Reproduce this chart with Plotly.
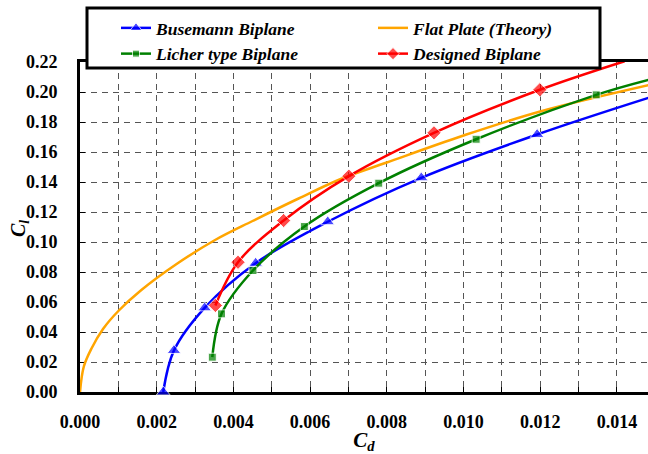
import plotly.graph_objects as go

# ---- data ----
busemann_cd = [0.00217, 0.00245, 0.00325, 0.00458, 0.00646, 0.00890, 0.01192, 0.01482]
busemann_cl = [0.0000, 0.0277, 0.0561, 0.0859, 0.1135, 0.1428, 0.1717, 0.1961]
busemann_mk = [1, 1, 1, 1, 1, 1, 1, 0]

flat_cd = [0.0, 0.0001, 0.0003, 0.0006, 0.0010, 0.0016, 0.0025, 0.0035, 0.0045,
           0.0057, 0.0068, 0.0080, 0.0100, 0.0120, 0.01482]
flat_cl = [0.0, 0.017, 0.029, 0.042, 0.054, 0.068, 0.085, 0.101, 0.114,
           0.129, 0.142, 0.153, 0.171, 0.187, 0.2045]

licher_cd = [0.00345, 0.00369, 0.00451, 0.00585, 0.00779, 0.01033, 0.01346, 0.01482]
licher_cl = [0.0232, 0.0521, 0.0810, 0.1103, 0.1392, 0.1685, 0.1981, 0.2081]
licher_mk = [1, 1, 1, 1, 1, 1, 1, 0]

designed_cd = [0.00353, 0.00412, 0.00531, 0.00701, 0.00923, 0.01199, 0.01420]
designed_cl = [0.0577, 0.0865, 0.1143, 0.1439, 0.1728, 0.2015, 0.2205]
designed_mk = [1, 1, 1, 1, 1, 1, 0]

x_tickvals = [0.000, 0.002, 0.004, 0.006, 0.008, 0.010, 0.012, 0.014]
x_ticktext = ["0.000", "0.002", "0.004", "0.006", "0.008", "0.010", "0.012", "0.014"]
y_tickvals = [0.00, 0.02, 0.04, 0.06, 0.08, 0.10, 0.12, 0.14, 0.16, 0.18, 0.20, 0.22]

SERIF = "Liberation Serif, Times New Roman, serif"

# layout geometry (pixels)
W, H = 648, 454
ML, MR, MT, MB = 80, 0, 62, 62
PW, PH = W - ML - MR, H - MT - MB


def px_x(p):
    return (p - ML) / PW


def px_y(p):
    return (H - MB - p) / PH


def sizes(mask, s):
    return [s if m else 0 for m in mask]


fig = go.Figure()
fig.add_trace(go.Scatter(
    x=busemann_cd, y=busemann_cl, name="Busemann Biplane", legend="legend",
    mode="lines+markers", line=dict(color="#0000FF", width=2.5, shape="spline"),
    marker=dict(symbol="triangle-up", size=sizes(busemann_mk, 12), color="#0000FF"),
    cliponaxis=False))
fig.add_trace(go.Scatter(
    x=flat_cd, y=flat_cl, name="Flat Plate (Theory)", legend="legend2",
    mode="lines", line=dict(color="#FFA500", width=2.5, shape="spline"),
    cliponaxis=False))
fig.add_trace(go.Scatter(
    x=licher_cd, y=licher_cl, name="Licher type Biplane", legend="legend",
    mode="lines+markers", line=dict(color="#008000", width=2.5, shape="spline"),
    marker=dict(symbol="square", size=sizes(licher_mk, 8), color="#008000"),
    cliponaxis=False))
fig.add_trace(go.Scatter(
    x=designed_cd, y=designed_cl, name="Designed Biplane", legend="legend2",
    mode="lines+markers", line=dict(color="#FF0000", width=2.5, shape="spline"),
    marker=dict(symbol="diamond", size=sizes(designed_mk, 11), color="#FF0000"),
    cliponaxis=False))

tickfont = dict(family=SERIF, size=18, color="black", weight="bold")
gridstyle = dict(showgrid=True, gridcolor="#555555", gridwidth=1, griddash="6px,5px")
legfont = dict(family=SERIF, size=17.5, color="black", weight="bold", style="italic")

fig.update_layout(
    width=W, height=H,
    margin=dict(l=ML, r=MR, t=MT, b=MB),
    paper_bgcolor="white", plot_bgcolor="white",
    showlegend=True,
    legend=dict(
        x=px_x(116), y=px_y(10), xanchor="left", yanchor="top",
        bgcolor="rgba(0,0,0,0)", borderwidth=0, font=legfont,
        traceorder="normal", itemwidth=30,
    ),
    legend2=dict(
        x=px_x(373), y=px_y(10), xanchor="left", yanchor="top",
        bgcolor="rgba(0,0,0,0)", borderwidth=0, font=legfont,
        traceorder="normal", itemwidth=30,
    ),
    xaxis=dict(
        range=[0, 0.014811], tickvals=x_tickvals, ticktext=x_ticktext,
        ticks="inside", ticklen=5, tickwidth=1, tickcolor="black",
        showline=True, linecolor="black", linewidth=3, mirror=True,
        zeroline=False, tickfont=tickfont, ticklabelstandoff=11,
        layer="below traces",
        minor=dict(tick0=0, dtick=0.001, ticks="inside", ticklen=5, tickwidth=1,
                   tickcolor="black", **gridstyle),
        title=dict(text="<b><i>C</i></b><sub><b><i>d</i></b></sub>",
                   font=dict(family=SERIF, size=21, color="black"), standoff=4),
        **gridstyle,
    ),
    yaxis=dict(
        range=[0, 0.22], tickvals=y_tickvals, tickformat=".2f",
        ticks="inside", ticklen=5, tickwidth=1, tickcolor="black",
        showline=True, linecolor="black", linewidth=3, mirror=False,
        zeroline=False, tickfont=tickfont, ticklabelstandoff=16,
        layer="below traces",
        **gridstyle,
    ),
    shapes=[dict(
        type="rect", xref="paper", yref="paper",
        x0=px_x(87), x1=px_x(600), y0=px_y(68), y1=px_y(8),
        line=dict(color="black", width=3), fillcolor="white", layer="above",
    )],
    annotations=[dict(
        text="<b><i>C</i></b><sub><b><i>l</i></b></sub>",
        font=dict(family=SERIF, size=20, color="black"),
        textangle=-90, showarrow=False,
        xref="paper", yref="paper", x=px_x(19), y=px_y(229),
        xanchor="center", yanchor="middle",
    )],
)

fig.write_html("out.html")
